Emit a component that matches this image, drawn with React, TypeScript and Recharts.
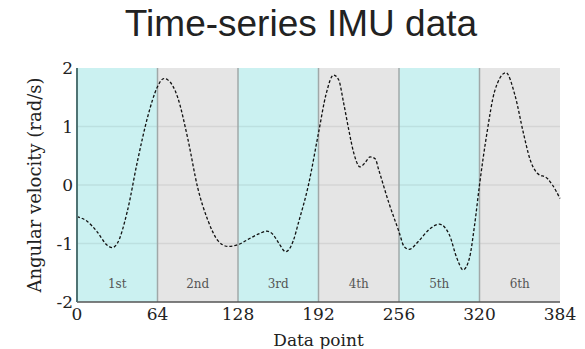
import React from 'react';
import {
  LineChart,
  Line,
  XAxis,
  YAxis,
  ReferenceArea,
  ReferenceLine,
} from 'recharts';

if (typeof document !== 'undefined') {
  document.body.style.margin = '0';
}

// angular velocity samples
const pointIndex = [
  0, 8, 16, 24, 28, 32, 40, 48, 56, 64, 69, 72, 80, 88, 96, 104, 112, 120, 128, 136,
  144, 151, 156, 160, 166, 172, 176, 184, 192, 198, 204, 208, 212, 216, 220, 225, 229, 233,
  237, 240, 248, 256, 260, 264, 272, 280, 288, 296, 302, 307, 312, 316, 320, 326, 332, 341,
  348, 355, 360, 366, 374, 378, 384,
];
const angularVelocity = [
  -0.54, -0.62, -0.8, -1.03, -1.07, -1.0, -0.45, 0.4, 1.15, 1.68, 1.82, 1.8, 1.5, 0.8, -0.05,
  -0.6, -0.95, -1.05, -1.02, -0.93, -0.84, -0.79, -0.85, -0.98, -1.14, -0.95, -0.65, 0.0, 0.89,
  1.55, 1.88, 1.8, 1.4, 0.95, 0.55, 0.31, 0.38, 0.48, 0.45, 0.25, -0.31, -0.8, -1.05, -1.1,
  -0.95, -0.76, -0.67, -0.85, -1.25, -1.45, -1.25, -0.7, 0.0, 0.9, 1.6, 1.92, 1.55, 0.88, 0.45,
  0.2, 0.11, 0.0, -0.23,
];

const segmentStarts = [0, 64, 128, 192, 256, 320];
const segmentEnds = [64, 128, 192, 256, 320, 384];
const segmentLabels = ['1st', '2nd', '3rd', '4th', '5th', '6th'];

const xTicks = [0, 64, 128, 192, 256, 320, 384];
const yTicks = [-2, -1, 0, 1, 2];
const gridValues = [-1, 0, 1];

const data = pointIndex.map((x, i) => ({ x, v: angularVelocity[i] }));

const serif = '"DejaVu Serif", serif';

export default function App() {
  return (
    <div style={{ position: 'relative', width: 585, height: 349, background: '#fff' }}>
      <div
        style={{
          position: 'absolute',
          left: 0,
          top: 5,
          width: 602,
          textAlign: 'center',
          fontFamily: '"Liberation Sans", Arial, sans-serif',
          fontSize: 37,
          lineHeight: '37px',
          color: '#222',
        }}
      >
        Time-series IMU data
      </div>
      <LineChart
        width={585}
        height={349}
        data={data}
        margin={{ top: 68, right: 25, left: 17, bottom: 0 }}
      >
        {segmentStarts.map((s, i) => (
          <ReferenceArea
            key={`seg-${i}`}
            x1={s}
            x2={segmentEnds[i]}
            y1={-2}
            y2={2}
            fill={i % 2 === 0 ? '#cbf1f1' : '#e5e5e5'}
            fillOpacity={1}
            stroke="none"
            label={{
              value: segmentLabels[i],
              position: 'insideBottom',
              offset: 14,
              fill: '#555',
              fontSize: 12,
              fontFamily: serif,
            }}
          />
        ))}
        {gridValues.map((g) => (
          <ReferenceLine key={`g-${g}`} y={g} stroke="rgba(0,0,0,0.07)" strokeWidth={1.5} />
        ))}
        {segmentStarts.slice(1).map((s) => (
          <ReferenceLine key={`b-${s}`} x={s} stroke="#a0a8a8" strokeWidth={1.5} />
        ))}
        <XAxis
          dataKey="x"
          type="number"
          domain={[0, 384]}
          ticks={xTicks}
          height={47}
          axisLine={{ stroke: '#555', strokeWidth: 1.5 }}
          tickLine={false}
          tickSize={6}
          tickMargin={0}
          tick={{ fill: '#222', fontSize: 17, fontFamily: serif }}
          label={{
            value: 'Data point',
            position: 'insideBottom',
            offset: 3,
            fill: '#222',
            fontSize: 17,
            fontFamily: serif,
          }}
        />
        <YAxis
          type="number"
          domain={[-2, 2]}
          ticks={yTicks}
          width={60}
          axisLine={{ stroke: '#4f7373', strokeWidth: 2 }}
          tickLine={false}
          tickSize={4}
          tickMargin={0}
          tick={{ fill: '#222', fontSize: 17, fontFamily: serif }}
          label={{
            value: 'Angular velocity (rad/s)',
            angle: -90,
            position: 'insideLeft',
            offset: 18,
            fill: '#222',
            fontSize: 18,
            fontFamily: serif,
            style: { textAnchor: 'middle' },
          }}
        />
        <Line
          type="monotone"
          dataKey="v"
          stroke="#111"
          strokeWidth={1.3}
          strokeDasharray="3 2"
          dot={false}
          isAnimationActive={false}
        />
      </LineChart>
    </div>
  );
}
